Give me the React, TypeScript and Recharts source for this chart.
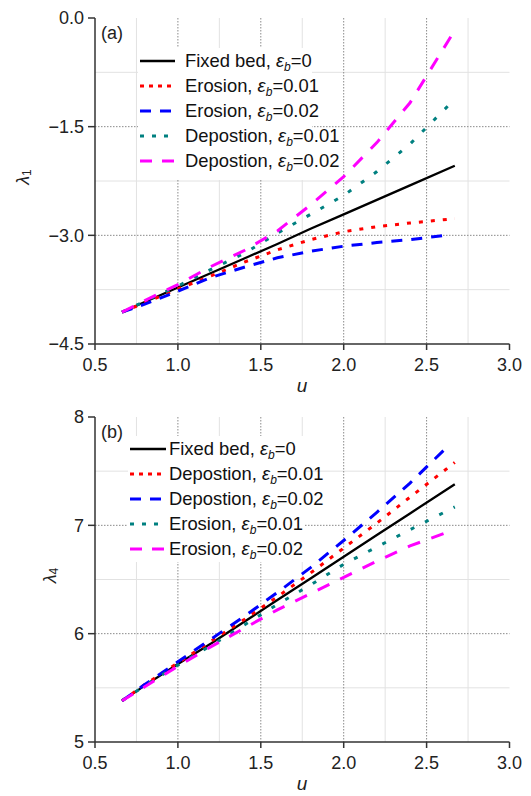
import { CartesianGrid, Legend, Line, LineChart, XAxis, YAxis } from "recharts";

const FONT = "'Liberation Sans', Arial, Helvetica, sans-serif";

// shared abscissa samples (u); the long / short runs end at different u
const uBase = [0.663, 0.8, 1.0, 1.2, 1.4, 1.6, 1.8, 2.0, 2.2, 2.4];
const uLong = [...uBase, 2.67];
const uShort = [...uBase, 2.615];

const xTicks = [0.5, 1.0, 1.5, 2.0, 2.5, 3.0];
const xMajor = [1.0, 1.5, 2.0, 2.5];
const xMinor = [0.75, 1.25, 1.75, 2.25, 2.75];

// panel (a): lambda_1
const aFixed = [-4.06, -3.92, -3.72, -3.52, -3.32, -3.12, -2.91, -2.71, -2.51, -2.31, -2.04];
const aEro01 = [-4.06, -3.93, -3.74, -3.56, -3.37, -3.2, -3.06, -2.95, -2.88, -2.83, -2.77];
const aEro02 = [-4.06, -3.95, -3.77, -3.58, -3.44, -3.31, -3.22, -3.15, -3.1, -3.06, -3.0];
const aDep01 = [-4.06, -3.91, -3.7, -3.47, -3.25, -2.97, -2.71, -2.45, -2.12, -1.74, -1.12];
const aDep02 = [-4.06, -3.9, -3.68, -3.43, -3.21, -2.94, -2.58, -2.19, -1.72, -1.17, -0.17];
const aTicks = [0, -1.5, -3.0, -4.5];
const aMajor = [-1.5, -3.0];
const aMinor = [-0.75, -2.25, -3.75];

// panel (b): lambda_4
const bFixed = [5.38, 5.52, 5.72, 5.91, 6.11, 6.31, 6.51, 6.71, 6.91, 7.11, 7.38];
const bDep01 = [5.38, 5.53, 5.73, 5.93, 6.13, 6.34, 6.56, 6.79, 7.02, 7.26, 7.58];
const bDep02 = [5.38, 5.53, 5.74, 5.95, 6.16, 6.38, 6.61, 6.86, 7.12, 7.39, 7.71];
const bEro01 = [5.38, 5.52, 5.71, 5.89, 6.08, 6.27, 6.45, 6.64, 6.8, 6.96, 7.17];
const bEro02 = [5.38, 5.51, 5.7, 5.88, 6.05, 6.22, 6.37, 6.52, 6.67, 6.81, 6.93];
const bTicks = [5, 6, 7, 8];
const bMajor = [6, 7];
const bMinor = [5.5, 6.5, 7.5];

type Series = {
  name: string;
  eps: string;
  color: string;
  width: number;
  dash?: string;
  legendDash?: string;
  u: number[];
  v: number[];
};

const seriesA: Series[] = [
  { name: "Fixed bed", eps: "0", color: "#000000", width: 2.3, u: uLong, v: aFixed },
  { name: "Erosion", eps: "0.01", color: "#ff0000", width: 3, dash: "4 8", legendDash: "4 5", u: uLong, v: aEro01 },
  { name: "Erosion", eps: "0.02", color: "#0000ff", width: 3, dash: "11 9", legendDash: "11 9", u: uShort, v: aEro02 },
  { name: "Depostion", eps: "0.01", color: "#008080", width: 3, dash: "4 12", legendDash: "4 8", u: uLong, v: aDep01 },
  { name: "Depostion", eps: "0.02", color: "#ff00ff", width: 3, dash: "13 12", legendDash: "12 10", u: uLong, v: aDep02 },
];

const seriesB: Series[] = [
  { name: "Fixed bed", eps: "0", color: "#000000", width: 2.3, u: uLong, v: bFixed },
  { name: "Depostion", eps: "0.01", color: "#ff0000", width: 3, dash: "4 8", legendDash: "4 5", u: uLong, v: bDep01 },
  { name: "Depostion", eps: "0.02", color: "#0000ff", width: 3, dash: "12 10", legendDash: "11 9", u: uShort, v: bDep02 },
  { name: "Erosion", eps: "0.01", color: "#008080", width: 3, dash: "4 12", legendDash: "4 8", u: uLong, v: bEro01 },
  { name: "Erosion", eps: "0.02", color: "#ff00ff", width: 3, dash: "13 12", legendDash: "12 10", u: uShort, v: bEro02 },
];

const rows = (u: number[], v: number[]) => u.map((x, i) => ({ u: x, v: v[i] }));

const axisStroke = "#333";
const tickStyle = { fontSize: 18, fill: "#222", fontFamily: FONT };

function LegendBox({ series, sampleW, gap }: { series: Series[]; sampleW: number; gap: number }) {
  return (
    <div style={{ fontFamily: FONT, fontSize: 18.4, color: "#111" }}>
      {series.map((s) => (
        <div
          key={s.name + s.eps}
          style={{ height: 25.2, display: "flex", alignItems: "center", whiteSpace: "nowrap" }}
        >
          <svg width={sampleW} height={10} style={{ marginLeft: 2, marginRight: gap, flex: "none" }}>
            <line
              x1={0}
              y1={5}
              x2={sampleW}
              y2={5}
              stroke={s.color}
              strokeWidth={s.width}
              strokeDasharray={s.legendDash}
            />
          </svg>
          <span>
            {s.name}, <i>ε</i>
            <span style={{ fontSize: 12, fontStyle: "italic", position: "relative", top: 4 }}>b</span>={s.eps}
          </span>
        </div>
      ))}
    </div>
  );
}

interface PanelProps {
  tag: string;
  sub: string;
  series: Series[];
  yDomain: [number, number];
  yTicks: number[];
  yMajor: number[];
  yMinor: number[];
  fmt: (v: number) => string;
  marginTop: number;
  yLabelX: number;
  legendPos: { left: number; top: number; width: number; height: number };
  sampleW: number;
  gap: number;
}

function Panel(p: PanelProps) {
  const plotH = 398 - p.marginTop - 54;
  return (
    <LineChart width={531} height={398} margin={{ top: p.marginTop, right: 21.5, bottom: 14, left: 0 }}>
      <CartesianGrid horizontalValues={p.yMinor} verticalValues={xMinor} stroke="#e2e2e2" strokeWidth={1} />
      <CartesianGrid
        horizontalValues={p.yMajor}
        verticalValues={xMajor}
        stroke="#8a8a8a"
        strokeWidth={1}
        strokeDasharray="1.5 1.5"
      />
      <XAxis
        type="number"
        dataKey="u"
        domain={[0.5, 3]}
        ticks={xTicks}
        allowDataOverflow
        height={40}
        tickSize={6}
        tickMargin={8}
        tickFormatter={(v) => Number(v).toFixed(1)}
        tick={tickStyle}
        stroke={axisStroke}
        strokeWidth={1.5}
        label={{
          content: () => (
            <text
              x={302}
              y={p.marginTop + plotH + 48}
              textAnchor="middle"
              fontSize={19}
              fontStyle="italic"
              fontFamily={FONT}
              fill="#222"
            >
              u
            </text>
          ),
        }}
      />
      <XAxis
        xAxisId="top"
        orientation="top"
        type="number"
        domain={[0.5, 3]}
        ticks={xTicks}
        mirror
        height={0}
        tickSize={7}
        tickFormatter={() => ""}
        stroke={axisStroke}
        strokeWidth={1.5}
      />
      <YAxis
        type="number"
        domain={p.yDomain}
        ticks={p.yTicks}
        allowDataOverflow
        width={95}
        tickSize={7}
        tickMargin={4}
        tickFormatter={(v) => p.fmt(Number(v))}
        tick={tickStyle}
        stroke={axisStroke}
        strokeWidth={1.5}
        label={{
          content: () => {
            const cy = p.marginTop + plotH / 2 - 4;
            return (
              <g fontFamily={FONT} fill="#222">
                <text
                  x={p.yLabelX}
                  y={cy}
                  transform={`rotate(-90 ${p.yLabelX} ${cy})`}
                  textAnchor="middle"
                  dominantBaseline="central"
                  fontSize={18}
                >
                  <tspan fontStyle="italic">λ</tspan>
                  <tspan fontSize={12} dy={4}>
                    {p.sub}
                  </tspan>
                </text>
                <text x={101} y={p.marginTop + 21} fontSize={18}>
                  {p.tag}
                </text>
              </g>
            );
          },
        }}
      />
      <YAxis
        yAxisId="right"
        orientation="right"
        type="number"
        domain={p.yDomain}
        ticks={p.yTicks}
        mirror
        width={0}
        tickSize={7}
        tickFormatter={() => ""}
        stroke={axisStroke}
        strokeWidth={1.5}
      />
      {p.series.map((s) => (
        <Line
          key={s.name + s.eps}
          data={rows(s.u, s.v)}
          dataKey="v"
          type="linear"
          stroke={s.color}
          strokeWidth={s.width}
          strokeDasharray={s.dash}
          dot={false}
          activeDot={false}
          isAnimationActive={false}
        />
      ))}
      <Legend
        layout="vertical"
        align="center"
        verticalAlign="middle"
        wrapperStyle={{ ...p.legendPos, background: "#fff" }}
        content={() => <LegendBox series={p.series} sampleW={p.sampleW} gap={p.gap} />}
      />
    </LineChart>
  );
}

export default function App() {
  return (
    <div style={{ width: 531, height: 796, background: "#fff" }}>
      <style>{"body{margin:0;background:#fff}"}</style>
      <Panel
        tag="(a)"
        sub="1"
        series={seriesA}
        yDomain={[-4.5, 0]}
        yTicks={aTicks}
        yMajor={aMajor}
        yMinor={aMinor}
        fmt={(v) => v.toFixed(1).replace("-", "\u2212")}
        marginTop={18}
        yLabelX={23}
        legendPos={{ left: 138, top: 48, width: 174, height: 132 }}
        sampleW={35}
        gap={10}
      />
      <Panel
        tag="(b)"
        sub="4"
        series={seriesB}
        yDomain={[5, 8]}
        yTicks={bTicks}
        yMajor={bMajor}
        yMinor={bMinor}
        fmt={(v) => String(v)}
        marginTop={19}
        yLabelX={50}
        legendPos={{ left: 128, top: 38, width: 177, height: 126 }}
        sampleW={36}
        gap={3}
      />
    </div>
  );
}
